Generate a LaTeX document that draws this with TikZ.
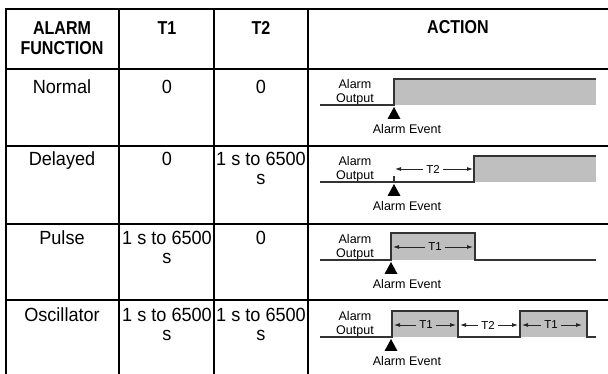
\documentclass[tikz,border=0pt]{standalone}
\usepackage{fontspec}
\setmainfont{Liberation Sans}
\newfontfamily\cellfont[FakeStretch=0.95]{Liberation Sans}
\newfontfamily\headfont[FakeStretch=0.86]{Liberation Sans}
\usetikzlibrary{arrows.meta}

\tikzset{
  tbl/.style={line width=1.5pt, black},
  wave/.style={line width=0.8pt, black!80},
  hi/.style={fill=black!25},
  cell/.style={font=\cellfont\fontsize{14.3}{14.25}\selectfont, align=center, inner sep=0pt, anchor=base},
  head/.style={font=\headfont\bfseries\fontsize{14}{15}\selectfont, align=center, inner sep=0pt, anchor=base},
  small/.style={font=\fontsize{9.4}{11}\selectfont, align=center, inner sep=0pt, anchor=base},
  tlab/.style={font=\fontsize{8.6}{10}\selectfont, inner sep=2.5pt},
  tarr/.style={-{Latex[length=4.5pt,width=3pt]}, line width=0.6pt, black!85}
}

\begin{document}
\begin{tikzpicture}[x=0.75pt,y=-0.75pt]
	\useasboundingbox (0,0) rectangle (608,374);
	% table rules
	\draw [tbl] (6,374) -- (6,9) -- (608,9);
	\foreach \xc in {119,214,308}
		\draw [tbl] (\xc,9) -- (\xc,374);
	\foreach \yr in {69,146,224,300}
		\draw [tbl] (6,\yr) -- (608,\yr);
	% header (base = last line)
	\node [head] (hfun) at (62,55) {ALARM\\FUNCTION};
	\node [head] (hta) at (167,35) {T1};
	\node [head] (htb) at (261,35) {T2};
	\node [head] (hact) at (458,34) {ACTION};
	% cells
	\node [cell] (fnorm) at (62,94) {Normal};
	\node [cell] (anorm) at (167,94) {0};
	\node [cell] (bnorm) at (261,94) {0};
	\node [cell] (fdel) at (62,166) {Delayed};
	\node [cell] (adel) at (167,166) {0};
	\node [cell] (bdel) at (261,185) {1 s to 6500\\s};
	\node [cell] (fpul) at (62,245) {Pulse};
	\node [cell] (apul) at (167,264) {1 s to 6500\\s};
	\node [cell] (bpul) at (261,245) {0};
	\node [cell] (fosc) at (62,322) {Oscillator};
	\node [cell] (aosc) at (167,341) {1 s to 6500\\s};
	\node [cell] (bosc) at (261,341) {1 s to 6500\\s};
	% labels and event marks of each action
	\foreach \yb/\xe/\i in {105/394/1,182/394/2,260/391/3,337/391/4} {
		\node [small] (out\i) at (355,\yb-2) {Alarm\\Output};
		\fill [black] (\xe,\yb+2) -- (\xe-6.5,\yb+14) -- (\xe+6.5,\yb+14) -- cycle;
		\node [small] (evt\i) at (407,\yb+29) {Alarm Event};
	}
	% normal
	\fill [hi] (394,79) rectangle (596,105);
	\draw [wave] (320,105) -- (394,105) -- (394,79) -- (596,79);
	% delayed
	\fill [hi] (474,156) rectangle (596,182);
	\draw [wave] (320,182) -- (474,182) -- (474,156) -- (596,156);
	\draw [wave] (394,176) -- (394,182);
	\node [tlab] (dtb) at (433,169) {T2};
	\coordinate (dtbl) at (395,169);
	\coordinate (dtbr) at (473,169);
	\draw [tarr] (dtb.west) -- (dtbl);
	\draw [tarr] (dtb.east) -- (dtbr);
	% pulse
	\fill [hi] (391,233) rectangle (475,260);
	\draw [wave] (320,260) -- (391,260) -- (391,233) -- (475,233) -- (475,260) -- (596,260);
	\node [tlab] (pta) at (435,247) {T1};
	\coordinate (ptal) at (393,247);
	\coordinate (ptar) at (473,247);
	\draw [tarr] (pta.west) -- (ptal);
	\draw [tarr] (pta.east) -- (ptar);
	% oscillator
	\fill [hi] (392,311) rectangle (458,337);
	\fill [hi] (520,311) rectangle (587,337);
	\draw [wave] (320,337) -- (392,337) -- (392,311) -- (458,311) -- (458,337) -- (520,337)
		-- (520,311) -- (587,311) -- (587,337) -- (596,337);
	\node [tlab] (ota) at (426,325) {T1};
	\node [tlab] (otb) at (488,325) {T2};
	\node [tlab] (otc) at (551,325) {T1};
	\coordinate (otal) at (394,325);
	\coordinate (otar) at (456,325);
	\coordinate (otbl) at (460,325);
	\coordinate (otbr) at (518,325);
	\coordinate (otcl) at (522,325);
	\coordinate (otcr) at (582,325);
	\draw [tarr] (ota.west) -- (otal);
	\draw [tarr] (ota.east) -- (otar);
	\draw [tarr] (otb.west) -- (otbl);
	\draw [tarr] (otb.east) -- (otbr);
	\draw [tarr] (otc.west) -- (otcl);
	\draw [tarr] (otc.east) -- (otcr);
\end{tikzpicture}
\end{document}
